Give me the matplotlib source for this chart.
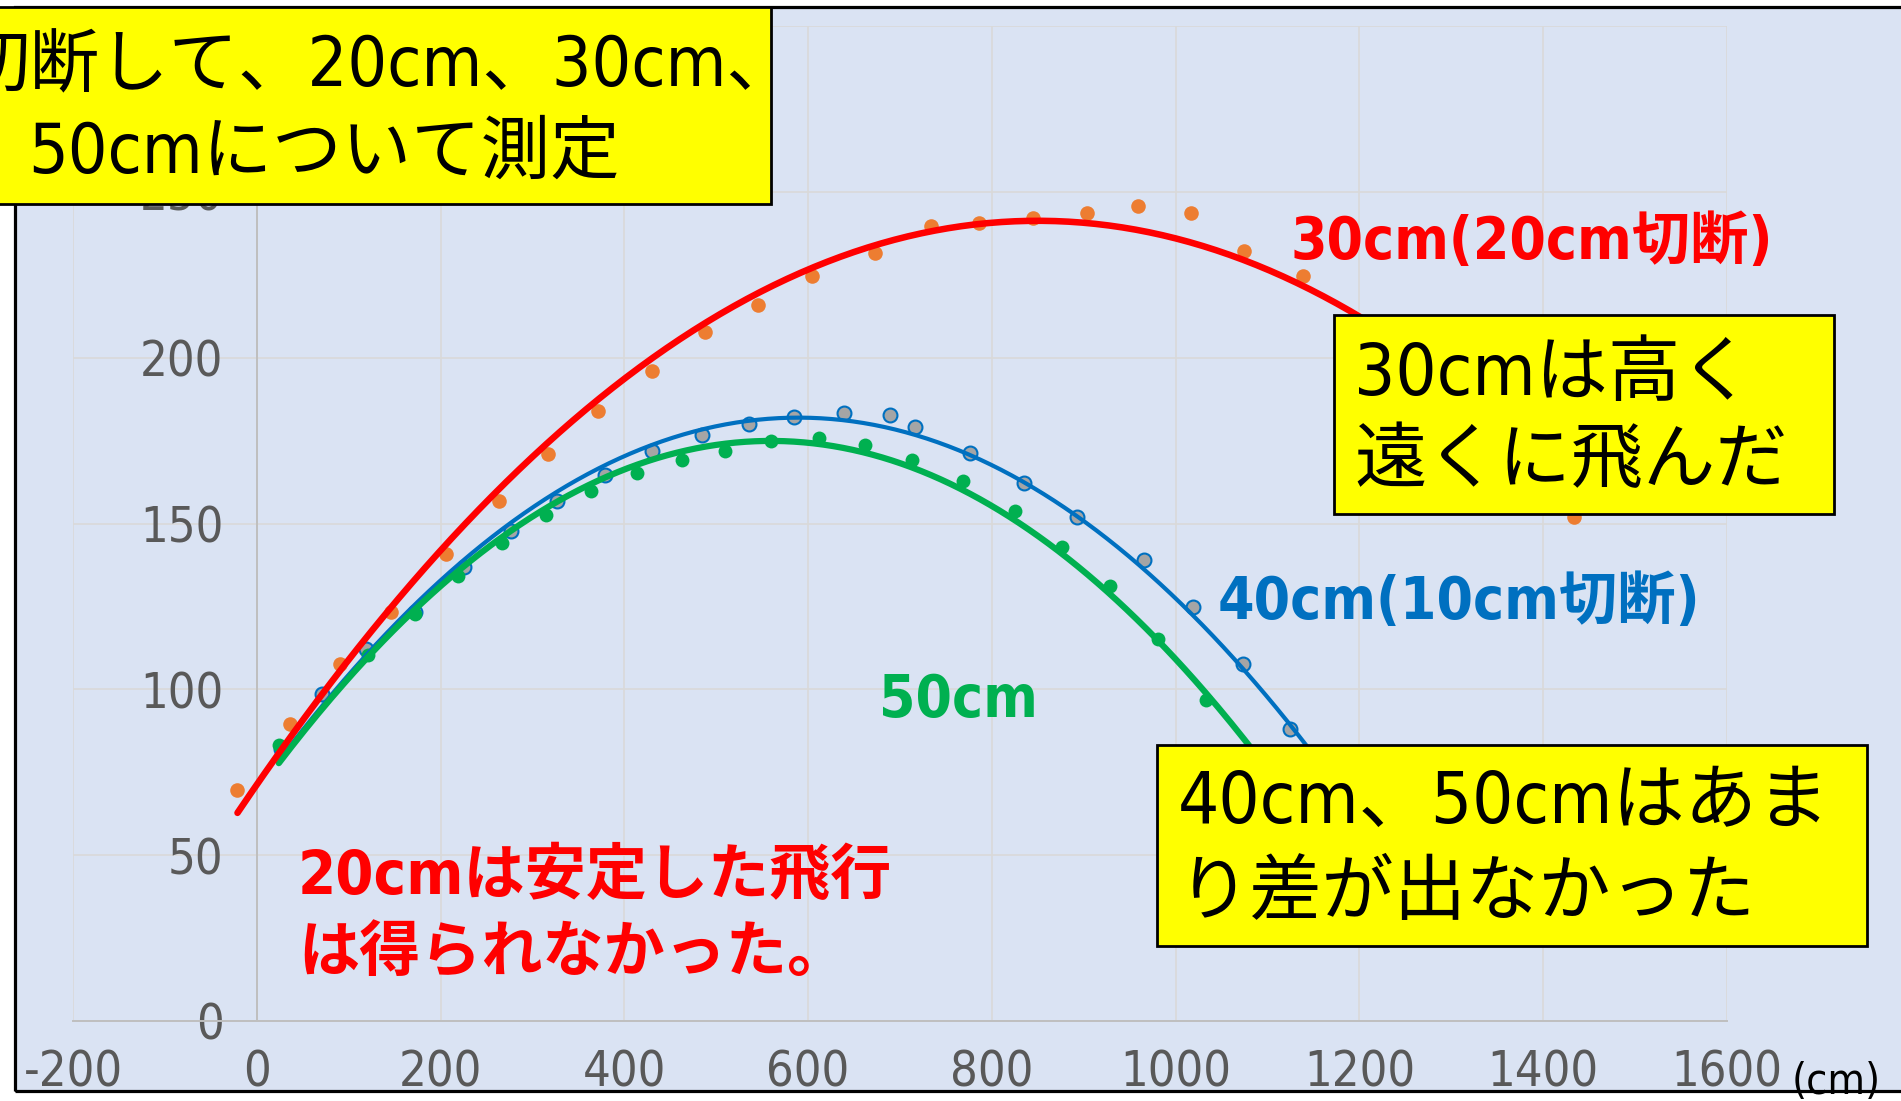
import numpy as np
import matplotlib.pyplot as plt
from matplotlib import font_manager as fm
from matplotlib.patches import Rectangle

W, H = 1901, 1101

# 30cm (20cm cut) - orange dots, red trendline
x30 = [-21, 36, 91, 146, 206, 264, 317, 371, 430, 488, 545, 604, 673, 734,
       786, 845, 904, 959, 1017, 1074, 1139, 1198, 1433]
y30 = [69.6, 89.4, 107.7, 123.4, 140.7, 156.8, 171.0, 184.0, 196.0, 207.7,
       216.0, 224.5, 231.5, 239.6, 240.7, 242.0, 243.6, 245.8, 243.6, 232.2,
       224.5, 211.0, 152.0]

# 40cm (10cm cut) - grey circles, blue trendline (last point sits under the box)
x40 = [26, 71, 119, 172, 226, 277, 327, 379, 430, 484, 536, 585, 639, 689,
       716, 776, 835, 893, 966, 1019, 1073, 1124, 1175]
y40 = [82.0, 98.5, 112.3, 123.4, 136.8, 147.6, 156.8, 164.5, 171.8, 176.6,
       180.0, 182.2, 183.3, 182.8, 179.1, 171.4, 162.3, 152.0, 139.0, 124.7,
       107.5, 87.9, 66.0]

# 50cm - green dots, green trendline
x50 = [24, 121, 172, 219, 267, 315, 364, 414, 463, 510, 560, 612, 662, 713,
       769, 825, 876, 929, 981, 1033, 1085]
y50 = [83.3, 110.4, 122.7, 134.1, 144.0, 152.6, 159.9, 165.2, 169.2, 172.0,
       175.0, 175.7, 173.8, 169.2, 162.8, 153.8, 142.9, 131.1, 115.2, 96.7, 76.0]

xticks = list(range(-200, 1601, 200))
yticks = list(range(0, 301, 50))

# pick a narrow latin face if one is installed
_fonts = fm.fontManager.ttflist
_names = {f.name for f in _fonts}
stretch = 'normal'
if 'Liberation Sans Narrow' in _names:
    latin = 'Liberation Sans Narrow'
elif 'Noto Sans Mono CJK JP' in _names:
    latin = 'Noto Sans Mono CJK JP'
elif any(f.name == 'DejaVu Sans' and f.stretch == 'condensed' for f in _fonts):
    latin = 'DejaVu Sans'
    stretch = 'condensed'
else:
    latin = 'Noto Sans CJK JP'
jp = [latin, 'Noto Sans CJK JP', 'DejaVu Sans']

plt.rcParams['axes.unicode_minus'] = False


def fx(px):
    return px / W


def fy(py):
    return 1 - py / H


fig = plt.figure(figsize=(W / 100, H / 100), dpi=100)
fig.patch.set_facecolor('white')

# chart area background and frame
fig.add_artist(Rectangle((fx(15), fy(1091)), 1.2, fy(7) - fy(1091),
                         transform=fig.transFigure, fc='#DAE3F3', ec='none', zorder=-5))
fig.add_artist(Rectangle((fx(15), fy(1091)), 1.2, fy(7) - fy(1091),
                         transform=fig.transFigure, fill=False, ec='black', lw=2.3, zorder=4))

ax = fig.add_axes([fx(73), fy(1021), fx(1727) - fx(73), fy(26) - fy(1021)])
ax.patch.set_visible(False)
ax.set_xlim(-200, 1600)
ax.set_ylim(0, 300)
ax.set_xticks(xticks)
ax.set_yticks(yticks)
ax.grid(True, color='#D9D9D9', lw=1.2, zorder=0)
ax.set_axisbelow(True)
for s in ['top', 'right']:
    ax.spines[s].set_visible(False)
ax.spines['left'].set_position(('data', 0))
ax.spines['left'].set_color('#BFBFBF')
ax.spines['bottom'].set_color('#BFBFBF')
ax.spines['left'].set_linewidth(1.4)
ax.spines['bottom'].set_linewidth(1.4)
ax.tick_params(axis='both', length=0, labelsize=35, labelcolor='#595959')
ax.tick_params(axis='x', pad=20)
ax.tick_params(axis='y', pad=24)
for lab in ax.get_xticklabels() + ax.get_yticklabels():
    lab.set_family(jp)
    lab.set_stretch(stretch)

# scatter points
ax.scatter(x30, y30, s=110, color='#ED7D31', lw=0, zorder=2)
ax.scatter(x40, y40, s=100, color='#A5A5A5', edgecolors='#0070C0', lw=1.5, zorder=2.1)
ax.scatter(x50, y50, s=100, color='#00B050', lw=0, zorder=2.2)

# 2nd order polynomial trendlines
for xs, ys, col, lw, z in [(x40, y40, '#0070C0', 3.0, 3.0),
                           (x50, y50, '#00B050', 4.5, 3.1),
                           (x30, y30, '#FF0000', 4.7, 3.2)]:
    c = np.polyfit(xs, ys, 2)
    t = np.linspace(min(xs), max(xs), 300)
    ax.plot(t, np.polyval(c, t), color=col, lw=lw, zorder=z, solid_capstyle='round')

# yellow boxes
for x0, y0, x1, y1 in [(-10, 7, 771, 204), (1334, 315, 1834, 514), (1157, 745, 1867, 946)]:
    fig.add_artist(Rectangle((fx(x0), fy(y1)), fx(x1) - fx(x0), fy(y0) - fy(y1),
                             transform=fig.transFigure, fc='#FFFF00', ec='black',
                             lw=2, zorder=5))


def put(x, y, s, size, color='black', weight='normal', z=6):
    fig.text(fx(x), fy(y), s, ha='left', va='center', fontsize=size, color=color,
             weight=weight, family=jp, stretch=stretch, zorder=z)


put(-40, 67, '切断して、20cm、30cm、', 50)
put(28, 153, '50cmについて測定', 50)
put(1354, 376, '30cmは高く', 52)
put(1354, 463, '遠くに飛んだ', 52)
put(1178, 803, '40cm、50cmはあま', 52)
put(1178, 895, 'り差が出なかった', 52)

put(1290, 243, '30cm(20cm切断)', 42, '#FF0000', 'bold', 3)
put(1218, 603, '40cm(10cm切断)', 42, '#0070C0', 'bold', 3)
put(879, 701, '50cm', 42, '#00B050', 'bold', 3)
put(298, 877, '20cmは安定した飛行', 44, '#FF0000', 'bold', 3)
put(298, 955, 'は得られなかった。', 44, '#FF0000', 'bold', 3)
put(1792, 1082, '(cm)', 31, 'black', 'normal', 3)

fig.savefig('out.png', dpi=100)
